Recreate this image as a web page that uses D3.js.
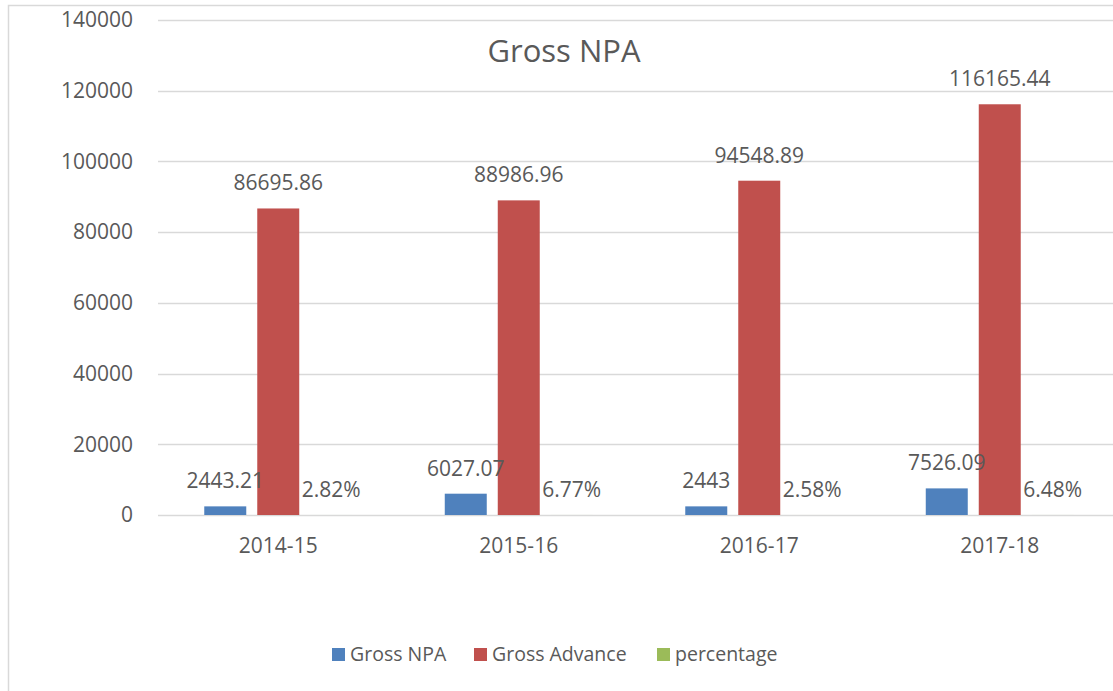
<!DOCTYPE html>
<html>
<head>
<meta charset="utf-8">
<script src="https://cdn.jsdelivr.net/npm/d3@7"></script>
<style>
  body { margin: 0; background: #fff; }
  text { font-family: "Open Sans", sans-serif; fill: #595959; }
</style>
</head>
<body>
<div id="chart"></div>
<script>
var years = ['2014-15', '2015-16', '2016-17', '2017-18'];
var seriesNames = ['Gross NPA', 'Gross Advance', 'percentage'];
var grossNpa = [2443.21, 6027.07, 2443, 7526.09];
var grossAdvance = [86695.86, 88986.96, 94548.89, 116165.44];
var percentage = [2.82, 6.77, 2.58, 6.48];
var labelNpa = ['2443.21', '6027.07', '2443', '7526.09'];
var labelAdvance = ['86695.86', '88986.96', '94548.89', '116165.44'];
var labelPct = ['2.82%', '6.77%', '2.58%', '6.48%'];
var yTicks = [0, 20000, 40000, 60000, 80000, 100000, 120000, 140000];
var colors = ['#4F81BD', '#C0504D', '#9BBB59'];

var width = 1113;
var height = 691;
var plot = { left: 158, right: 1120, top: 20, bottom: 515 };

var svg = d3.select('#chart')
  .append('svg')
  .attr('width', width)
  .attr('height', height);

// chart frame
svg.append('rect')
  .attr('x', 8.5)
  .attr('y', 5.5)
  .attr('width', 1130)
  .attr('height', 720)
  .attr('fill', 'none')
  .attr('stroke', '#d9d9d9')
  .attr('stroke-width', 1.5);

var x0 = d3.scaleBand()
  .domain(years)
  .range([plot.left, plot.right]);

var x1 = d3.scaleBand()
  .domain(seriesNames)
  .range([0, x0.bandwidth()])
  .paddingInner(0.2075)
  .paddingOuter(0.873);

var y = d3.scaleLinear()
  .domain([0, 140000])
  .range([plot.bottom, plot.top]);

// gridlines
svg.append('g')
  .selectAll('line')
  .data(yTicks)
  .enter()
  .append('line')
  .attr('x1', plot.left)
  .attr('x2', plot.right)
  .attr('y1', function (d) { return Math.round(y(d)) + 0.5; })
  .attr('y2', function (d) { return Math.round(y(d)) + 0.5; })
  .attr('stroke', '#d9d9d9')
  .attr('stroke-width', 1.5);

// y axis
var yAxis = d3.axisLeft(y)
  .tickValues(yTicks)
  .tickSize(0)
  .tickPadding(0)
  .tickFormat(function (d) { return String(d); });

var yg = svg.append('g')
  .attr('transform', 'translate(133,0)')
  .call(yAxis);
yg.select('.domain').remove();
yg.selectAll('text')
  .attr('font-size', 21)
  .attr('fill', '#595959')
  .style('font-family', '"Open Sans", sans-serif');

// x axis
var xAxis = d3.axisBottom(x0).tickSize(0).tickPadding(0);
var xg = svg.append('g')
  .attr('transform', 'translate(0,538)')
  .call(xAxis);
xg.select('.domain').remove();
xg.selectAll('text')
  .attr('font-size', 21)
  .attr('fill', '#595959')
  .style('font-family', '"Open Sans", sans-serif');

var table = years.map(function (yr, i) {
  return {
    year: yr,
    values: [
      { name: seriesNames[0], value: grossNpa[i], label: labelNpa[i] },
      { name: seriesNames[1], value: grossAdvance[i], label: labelAdvance[i] },
      { name: seriesNames[2], value: percentage[i], label: labelPct[i] }
    ]
  };
});

var groups = svg.append('g')
  .selectAll('g')
  .data(table)
  .enter()
  .append('g')
  .attr('transform', function (d) { return 'translate(' + x0(d.year) + ',0)'; });

groups.selectAll('rect')
  .data(function (d) { return d.values; })
  .enter()
  .append('rect')
  .attr('x', function (d) { return x1(d.name); })
  .attr('width', x1.bandwidth())
  .attr('y', function (d) { return y(d.value); })
  .attr('height', function (d) { return y(0) - y(d.value); })
  .attr('fill', function (d, i) { return colors[i]; });

groups.selectAll('text.label')
  .data(function (d) { return d.values; })
  .enter()
  .append('text')
  .attr('class', 'label')
  .attr('x', function (d) { return x1(d.name) + x1.bandwidth() / 2; })
  .attr('y', function (d) { return y(d.value) - 18; })
  .attr('text-anchor', 'middle')
  .attr('font-size', 21)
  .text(function (d) { return d.label; });

// title
svg.append('text')
  .attr('x', 564)
  .attr('y', 62)
  .attr('text-anchor', 'middle')
  .attr('font-size', 31)
  .text('Gross NPA');

// legend
var legendX = [332, 474, 657];
var legend = svg.append('g')
  .selectAll('g')
  .data(seriesNames)
  .enter()
  .append('g')
  .attr('transform', function (d, i) { return 'translate(' + legendX[i] + ',648)'; });

legend.append('rect')
  .attr('width', 13)
  .attr('height', 13)
  .attr('fill', function (d, i) { return colors[i]; });

legend.append('text')
  .attr('x', 18)
  .attr('y', 13)
  .attr('font-size', 19.5)
  .text(function (d) { return d; });
</script>
</body>
</html>
